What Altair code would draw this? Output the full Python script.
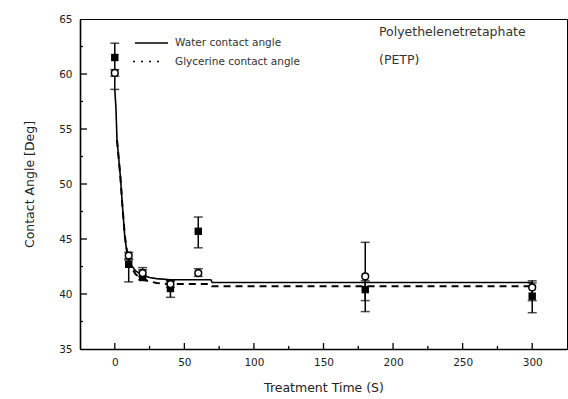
import altair as alt
import pandas as pd

# ---- data ----
time = [0, 10, 20, 40, 60, 180, 300]
water = [61.5, 42.7, 41.5, 40.5, 45.7, 40.4, 39.8]
water_lo = [58.6, 41.1, 41.3, 39.7, 44.2, 38.4, 38.3]
water_hi = [62.8, 43.1, 42.4, 41.2, 47.0, 41.2, 41.2]
glyc = [60.1, 43.5, 41.9, 40.9, 41.9, 41.6, 40.6]
glyc_lo = [59.8, 43.2, 41.6, 40.6, 41.6, 39.4, 39.4]
glyc_hi = [60.4, 43.8, 42.2, 41.2, 42.3, 44.7, 41.0]

water_fit_t = [0, 0.8, 1.6, 4, 5.5, 7.2, 8.8, 10, 12, 15, 20, 25, 30, 40, 69, 70, 300]
water_fit_y = [58.6, 57.0, 54.0, 50.7, 48.0, 45.2, 43.7, 43.1, 42.6, 42.1, 41.7, 41.5, 41.4, 41.3, 41.3, 41.05, 41.05]
glyc_fit_t = [1.6, 4, 5.5, 7.2, 8.8, 10, 12, 15, 20, 30, 40, 69, 70, 300]
glyc_fit_y = [54.0, 50.7, 48.0, 45.3, 43.9, 43.1, 42.4, 41.8, 41.3, 41.0, 40.9, 40.9, 40.7, 40.7]

x_major = [0, 50, 100, 150, 200, 250, 300]
x_minor = [25, 75, 125, 175, 225, 275]
y_major = [40, 45, 50, 55, 60]
y_minor = [37.5, 42.5, 47.5, 52.5, 57.5, 62.5]
y_labels = [35, 40, 45, 50, 55, 60, 65]

legend_labels = ["Water contact angle", "Glycerine contact angle"]
note_lines = ["Polyethelenetretaphate", "(PETP)"]

FONT = "DejaVu Sans"
W, H = 487, 330

pts = pd.DataFrame({"t": time, "water": water, "wlo": water_lo, "whi": water_hi,
                    "glyc": glyc, "glo": glyc_lo, "ghi": glyc_hi})
wfit = pd.DataFrame({"t": water_fit_t, "y": water_fit_y})
gfit = pd.DataFrame({"t": glyc_fit_t, "y": glyc_fit_y})

xs = alt.Scale(domain=[-25, 325], nice=False, zero=False)
ys = alt.Scale(domain=[35, 65], nice=False, zero=False)

X = alt.X("t:Q", scale=xs, axis=alt.Axis(
    values=x_major, title="Treatment Time (S)", ticks=False, grid=False,
    domainColor="black", domainWidth=1.6, labelFont=FONT, labelFontSize=10.5,
    labelColor="#222", labelPadding=8, titleFont=FONT, titleFontSize=12.5,
    titleFontWeight="normal", titleColor="#222", titlePadding=14))


def Y(field):
    return alt.Y(field, scale=ys, axis=alt.Axis(
        values=y_labels, title="Contact Angle [Deg]", ticks=False, grid=False,
        domainColor="black", domainWidth=1.6, labelFont=FONT, labelFontSize=10.5,
        labelColor="#222", labelPadding=8, titleFont=FONT, titleFontSize=12.5,
        titleFontWeight="normal", titleColor="#222", titlePadding=22))


base = alt.Chart(pts)

wfit_line = alt.Chart(wfit).mark_line(color="black", strokeWidth=1.6).encode(x=X, y=Y("y:Q"))
gfit_line = alt.Chart(gfit).mark_line(color="black", strokeWidth=2, strokeDash=[7, 5]).encode(x=X, y=Y("y:Q"))

w_bar = base.mark_rule(color="black", strokeWidth=1.5).encode(x=X, y=Y("wlo:Q"), y2="whi:Q")
g_bar = base.mark_rule(color="black", strokeWidth=1.5).encode(x=X, y=Y("glo:Q"), y2="ghi:Q")
caps = []
for f in ["wlo", "whi", "glo", "ghi"]:
    caps.append(base.mark_tick(orient="horizontal", color="black", size=9, thickness=1.5)
                .encode(x=X, y=Y(f + ":Q")))

w_pts = base.mark_point(shape="square", filled=True, color="black", size=55, opacity=1).encode(x=X, y=Y("water:Q"))
g_pts = base.mark_point(shape="circle", filled=True, fill="white", stroke="black", strokeWidth=1.5,
                        size=45, opacity=1).encode(x=X, y=Y("glyc:Q"))

# inward ticks
xmaj = alt.Chart(pd.DataFrame({"t": x_major})).mark_rule(color="black", strokeWidth=1.3).encode(
    x=X, y=alt.value(H), y2=alt.value(H - 6))
xmin = alt.Chart(pd.DataFrame({"t": x_minor})).mark_rule(color="black", strokeWidth=1.3).encode(
    x=X, y=alt.value(H), y2=alt.value(H - 3))
ymaj = alt.Chart(pd.DataFrame({"v": y_major})).mark_rule(color="black", strokeWidth=1.3).encode(
    y=Y("v:Q"), x=alt.value(0), x2=alt.value(7))
ymin = alt.Chart(pd.DataFrame({"v": y_minor})).mark_rule(color="black", strokeWidth=1.3).encode(
    y=Y("v:Q"), x=alt.value(0), x2=alt.value(3))

one = pd.DataFrame({"a": [0]})
leg_solid = alt.Chart(one).mark_rule(color="black", strokeWidth=1.6).encode(
    x=alt.value(55), x2=alt.value(88), y=alt.value(24))
leg_dot = alt.Chart(one).mark_rule(color="black", strokeWidth=1.6, strokeDash=[2, 6]).encode(
    x=alt.value(53), x2=alt.value(80), y=alt.value(42.5))
leg_t1 = alt.Chart(one).mark_text(align="left", baseline="middle", font=FONT, fontSize=10.5, color="#333").encode(
    x=alt.value(95), y=alt.value(24), text=alt.value(legend_labels[0]))
leg_t2 = alt.Chart(one).mark_text(align="left", baseline="middle", font=FONT, fontSize=10.5, color="#333").encode(
    x=alt.value(95), y=alt.value(43), text=alt.value(legend_labels[1]))
note1 = alt.Chart(one).mark_text(align="left", baseline="middle", font=FONT, fontSize=12.5, color="#333").encode(
    x=alt.value(299), y=alt.value(13), text=alt.value(note_lines[0]))
note2 = alt.Chart(one).mark_text(align="left", baseline="middle", font=FONT, fontSize=12.5, color="#333").encode(
    x=alt.value(299), y=alt.value(41), text=alt.value(note_lines[1]))

chart = alt.layer(
    gfit_line, wfit_line, w_bar, g_bar, *caps, w_pts, g_pts,
    xmaj, xmin, ymaj, ymin, leg_solid, leg_dot, leg_t1, leg_t2, note1, note2
).properties(
    width=W, height=H,
    autosize=alt.AutoSizeParams(type="none"),
    padding={"left": 80, "top": 19, "right": 1, "bottom": 50},
    background="white",
).configure_view(stroke="black", strokeWidth=1)

chart.save("out.html", embed_options={"renderer": "svg", "actions": False})
